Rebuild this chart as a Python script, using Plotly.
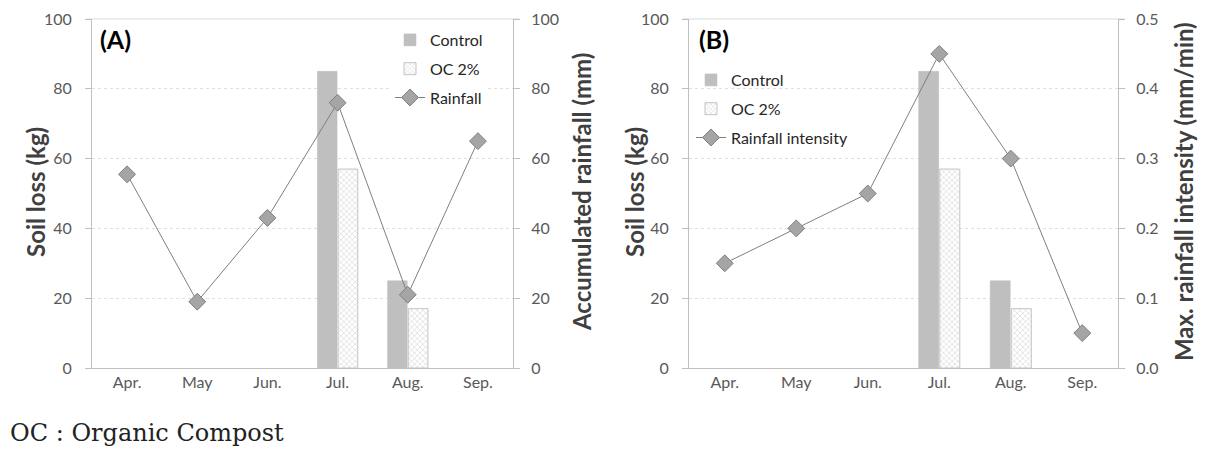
import plotly.graph_objects as go

months = ["Apr.", "May", "Jun.", "Jul.", "Aug.", "Sep."]
control = [None, None, None, 85, 25, None]
oc2 = [None, None, None, 57, 17, None]
rainfall = [55.5, 19, 43, 76, 21, 65]
intensity = [0.15, 0.20, 0.25, 0.45, 0.30, 0.05]

FONT = "Lato"
TICK_C = "#595959"
TITLE_C = "#404040"
AX_C = "#bfbfbf"
BAR_C = "#bfbfbf"
LINE_C = "#7f7f7f"
MARK_C = "#a5a5a5"

fig = go.Figure()

def add_panel(xa, ya, ya2, leg, line_vals, line_name, p):
    fig.add_trace(go.Bar(x=months, y=control, name="Control", xaxis=xa, yaxis=ya,
                         marker=dict(color=BAR_C, line=dict(color=BAR_C, width=0.5)),
                         legend=leg, legendgroup=p + "c"))
    fig.add_trace(go.Bar(x=months, y=oc2, name="OC 2%", xaxis=xa, yaxis=ya,
                         marker=dict(color="white", line=dict(color="#c4c4c4", width=1),
                                     pattern=dict(shape="x", fgcolor="#bdbdbd", bgcolor="white",
                                                  size=4, solidity=0.35)),
                         legend=leg, legendgroup=p + "o"))
    fig.add_trace(go.Scatter(x=months, y=line_vals, name=line_name, xaxis=xa, yaxis=ya2,
                             mode="lines+markers",
                             line=dict(color=LINE_C, width=1),
                             marker=dict(symbol="diamond", size=13, color=MARK_C,
                                         line=dict(color=LINE_C, width=1)),
                             legend=leg, legendgroup=p + "r"))

add_panel("x", "y", "y2", "legend", rainfall, "Rainfall", "a")
add_panel("x2", "y3", "y4", "legend2", intensity, "Rainfall intensity", "b")

# page body has an 8px margin; work in reference pixel coords and shift
OFF = 8
W, H = 1210 - OFF, 449 - OFF
TOP, BOT = 19 - OFF, 368 - OFF
PH = BOT - TOP

def px(x):
    return (x - OFF) / W

def py(y):
    return (BOT - (y - OFF)) / PH

domA = [px(92), px(513)]
domB = [px(689), px(1118)]

tickf = dict(family=FONT, size=16, color=TICK_C)

xcommon = dict(showgrid=False, showline=True, linecolor=AX_C, linewidth=1,
               tickfont=tickf, ticks="", automargin=False)
ycommon = dict(showline=True, linecolor=AX_C, linewidth=1, ticks="outside",
               ticklen=6, tickcolor=AX_C, tickfont=tickf, zeroline=False, automargin=False,
               ticklabeloverflow="allow")

fig.update_layout(
    width=W, height=H,
    margin=dict(l=0, r=0, t=TOP, b=H - BOT),
    paper_bgcolor="white", plot_bgcolor="white",
    barmode="group", bargap=0.41, bargroupgap=0.05,
    font=dict(family=FONT),
    xaxis=dict(domain=domA, anchor="y", **xcommon),
    xaxis2=dict(domain=domB, anchor="y3", **xcommon),
    yaxis=dict(domain=[0, 1], anchor="x", range=[0, 100], dtick=20, side="left",
               showgrid=True, gridcolor="#e0e0e0", griddash="dot", ticklabelstandoff=10,
               **ycommon),
    yaxis2=dict(domain=[0, 1], anchor="x", overlaying="y", side="right", range=[0, 100], dtick=20,
                showgrid=False, ticklabelstandoff=8, **ycommon),
    yaxis3=dict(domain=[0, 1], anchor="x2", range=[0, 100], dtick=20, side="left",
                showgrid=True, gridcolor="#e0e0e0", griddash="dot", ticklabelstandoff=10,
                **ycommon),
    yaxis4=dict(domain=[0, 1], anchor="x2", overlaying="y3", side="right", range=[0, 0.5], dtick=0.1,
                tickformat=".1f", showgrid=False, ticklabelstandoff=8, **ycommon),
    legend=dict(x=px(390), y=py(23), xanchor="left", yanchor="top",
                bgcolor="white", font=dict(family=FONT, size=16, color="#262626"),
                traceorder="grouped", tracegroupgap=5, itemwidth=30),
    legend2=dict(x=px(691), y=py(63), xanchor="left", yanchor="top",
                 bgcolor="rgba(0,0,0,0)", font=dict(family=FONT, size=16, color="#262626"),
                 traceorder="grouped", tracegroupgap=5, itemwidth=30),
    showlegend=True,
)

# white mask hiding the gridline behind legend B (as in the original)
fig.add_shape(type="rect", xref="paper", yref="paper", layer="between",
              x0=px(692), x1=px(866), y0=py(95), y1=py(72),
              fillcolor="white", line=dict(width=0))

# top border line at 100 (gridline extends over the ticks in the original)
for dom in (domA, domB):
    fig.add_shape(type="line", xref="paper", yref="paper", layer="below",
                  x0=dom[0] - 6 / W, x1=dom[1] + 6 / W, y0=1, y1=1,
                  line=dict(color="#d9d9d9", width=1))

# axis titles
ymid = py(192)
for text, xx in [("Soil loss (kg)", 35), ("Accumulated rainfall (mm)", 581),
                 ("Soil loss (kg)", 634), ("Max. rainfall intensity (mm/min)", 1183)]:
    fig.add_annotation(text="<b>" + text + "</b>", x=px(xx), y=ymid, xref="paper", yref="paper",
                       xanchor="center", yanchor="middle", textangle=-90, showarrow=False,
                       font=dict(family=FONT, size=24, color=TITLE_C))

fig.add_annotation(text="<b>(A)</b>", x=px(98), y=py(39), xref="paper", yref="paper",
                   xanchor="left", yanchor="middle", showarrow=False,
                   font=dict(family=FONT, size=25, color="black"))
fig.add_annotation(text="<b>(B)</b>", x=px(697), y=py(39), xref="paper", yref="paper",
                   xanchor="left", yanchor="middle", showarrow=False,
                   font=dict(family=FONT, size=25, color="black"))
fig.add_annotation(text="OC : Organic Compost", x=0, y=py(433), xref="paper", yref="paper",
                   xanchor="left", yanchor="middle", showarrow=False,
                   font=dict(family="DejaVu Serif", size=24, color="#222222"))

fig.write_html("out.html")
